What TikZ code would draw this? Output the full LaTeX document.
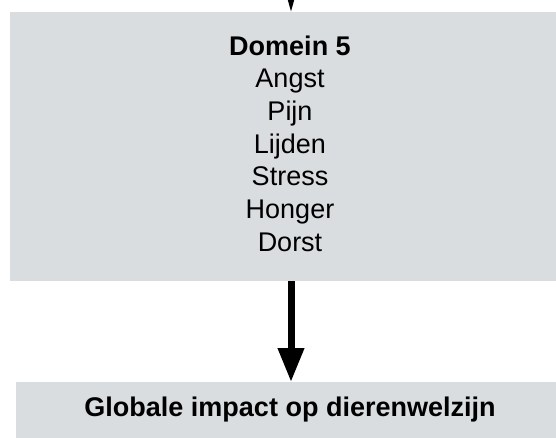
\documentclass[tikz,border=0pt]{standalone}
\usepackage{fontspec}
\setmainfont{Liberation Sans}
\usetikzlibrary{arrows.meta}
\definecolor{boxgray}{RGB}{217,221,224}
\begin{document}
\begin{tikzpicture}[x=1pt,y=-1pt,
  box/.style={fill=boxgray, draw=none, inner sep=0pt},
  boxtext/.style={inner sep=0pt, font=\fontsize{27pt}{32.7pt}\selectfont, align=center},
  bigarrow/.style={line width=7pt, -{Triangle[length=34pt,width=25pt]}},
  smallarrow/.style={line width=2pt, -{Triangle[length=14pt,width=7pt]}}]
\useasboundingbox (0,0) rectangle (556,438);
\clip (0,0) rectangle (556,438);
\node[box, minimum width=562pt, minimum height=269pt] (d5) at (291,146.5) {};
\node[boxtext] (d5t) at (290,143.5) {\textbf{Domein 5}\\Angst\\Pijn\\Lijden\\Stress\\Honger\\Dorst};
\node[box, minimum width=550pt, minimum height=80pt, anchor=north] (gi) at (291,382) {};
\node[boxtext, font=\fontsize{27pt}{32.7pt}\selectfont\bfseries] (git) at (290,409.5) {Globale impact op dierenwelzijn};
\coordinate (top) at (291,-30);
\draw[smallarrow] (top) -- (d5.north);
\draw[bigarrow] (d5.south) -- (gi.north);
\end{tikzpicture}
\end{document}
